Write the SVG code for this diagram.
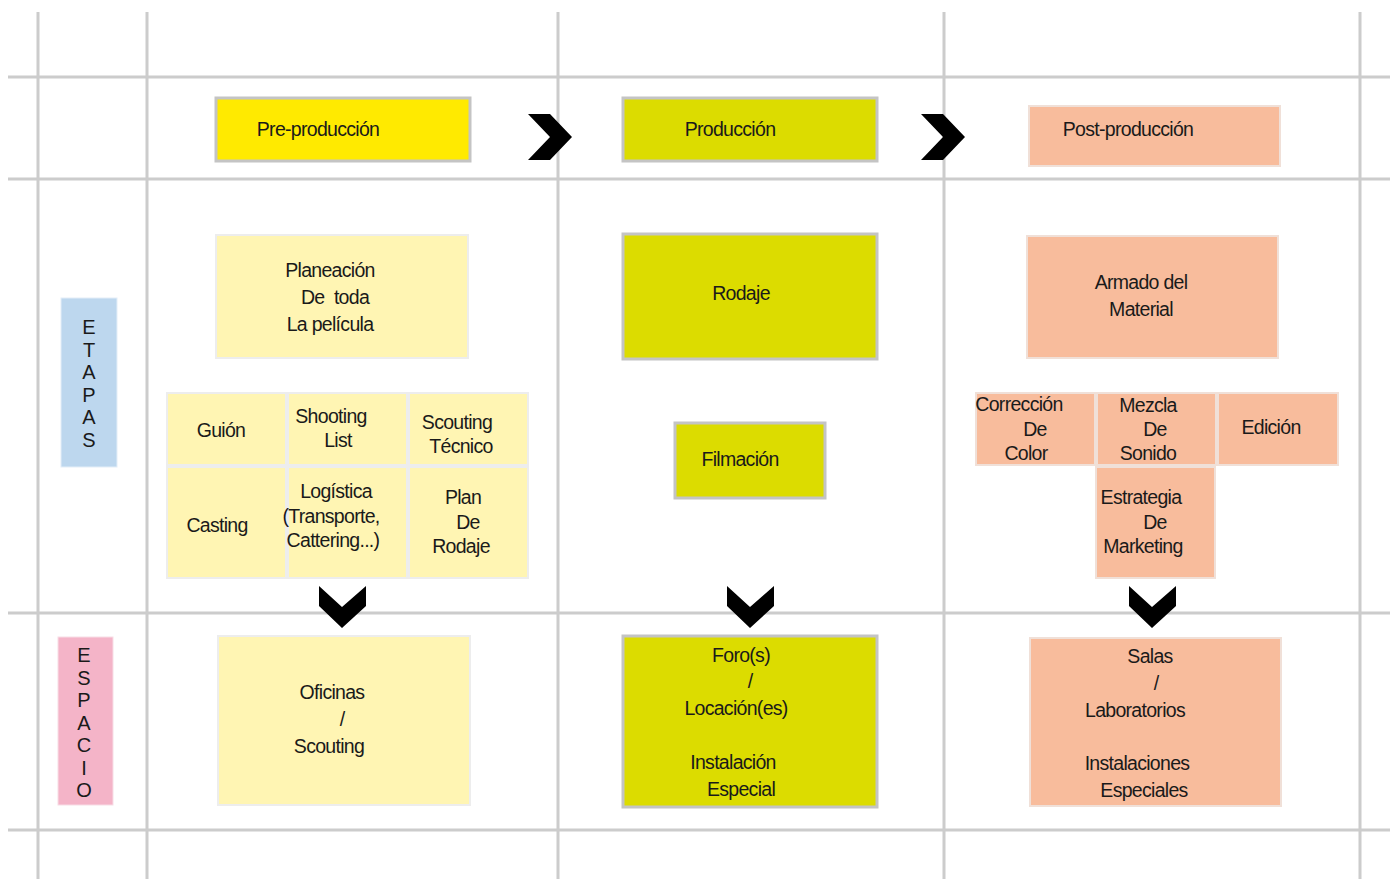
<svg xmlns="http://www.w3.org/2000/svg" width="1395" height="879" viewBox="0 0 1395 879">
<style>
.grid{stroke:#cccccc;stroke-width:3;fill:none}
.t{font-family:"Liberation Sans",Arial,sans-serif;font-size:19.5px;letter-spacing:-0.7px;fill:#1a1a1a;text-anchor:middle}
.v{font-family:"Liberation Sans",Arial,sans-serif;font-size:20px;fill:#1a1a1a;text-anchor:middle}
.yel{fill:#FFEA00;stroke:#c4c4c4;stroke-width:3}
.oli{fill:#DCDC00;stroke:#c4c4c4;stroke-width:3}
.pale{fill:#FFF5B3;stroke:#ededed;stroke-width:2}
.sal{fill:#F8BC9C;stroke:#f0e0d8;stroke-width:2}
.chev{fill:#000}
</style>
<rect width="1395" height="879" fill="#ffffff"/>
<g id="grid">
<line class="grid" x1="38" y1="12" x2="38" y2="879"/>
<line class="grid" x1="147" y1="12" x2="147" y2="879"/>
<line class="grid" x1="558" y1="12" x2="558" y2="879"/>
<line class="grid" x1="944" y1="12" x2="944" y2="879"/>
<line class="grid" x1="1360" y1="12" x2="1360" y2="879"/>
<line class="grid" x1="8" y1="77" x2="1390" y2="77"/>
<line class="grid" x1="8" y1="179" x2="1390" y2="179"/>
<line class="grid" x1="8" y1="613" x2="1390" y2="613"/>
<line class="grid" x1="8" y1="830" x2="1390" y2="830"/>
</g>
<g id="connectors">
<polygon class="chev" points="528,114 550,114 572,137 550,160 528,160 550,137"/>
<polygon class="chev" points="921,114 943,114 965,137 943,160 921,160 943,137"/>
<polygon class="chev" points="319,586 342,607 366,586 366,606 342,628 319,606"/>
<polygon class="chev" points="727,586 750,607 774,586 774,606 750,628 727,606"/>
<polygon class="chev" points="1129,586 1152,607 1176,586 1176,606 1152,628 1129,606"/>
</g>
<g id="etapas">
<rect x="61" y="298" width="56" height="169" fill="#BDD7EE" stroke="#e3eef8" stroke-width="1"/>
<text class="v"><tspan x="89" y="334">E</tspan><tspan x="89" y="356.5">T</tspan><tspan x="89" y="379">A</tspan><tspan x="89" y="401.5">P</tspan><tspan x="89" y="424">A</tspan><tspan x="89" y="446.5">S</tspan></text>
</g>
<g id="espacio">
<rect x="58" y="637" width="55" height="168" fill="#F4B4C8" stroke="#f8dde6" stroke-width="1"/>
<text class="v"><tspan x="84" y="662">E</tspan><tspan x="84" y="684.5">S</tspan><tspan x="84" y="707">P</tspan><tspan x="84" y="729.5">A</tspan><tspan x="84" y="752">C</tspan><tspan x="84" y="774.5">I</tspan><tspan x="84" y="797">O</tspan></text>
</g>
<g id="preproduccion">
<rect class="yel" x="216" y="98" width="254" height="63"/>
<text class="t" x="318" y="136">Pre-producción</text>
</g>
<g id="produccion">
<rect class="oli" x="623" y="98" width="254" height="63"/>
<text class="t" x="730" y="136">Producción</text>
</g>
<g id="postproduccion">
<rect class="sal" x="1029" y="106" width="251" height="60"/>
<text class="t" x="1128" y="136">Post-producción</text>
</g>
<g id="planeacion">
<rect class="pale" x="216" y="235" width="252" height="123"/>
<text class="t"><tspan x="330" y="277">Planeación</tspan><tspan x="335" y="304">De&#160;&#160;toda</tspan><tspan x="330" y="331">La película</tspan></text>
</g>
<g id="rodaje">
<rect class="oli" x="623" y="234" width="254" height="125"/>
<text class="t" x="741" y="300">Rodaje</text>
</g>
<g id="armado">
<rect class="sal" x="1027" y="236" width="251" height="122"/>
<text class="t"><tspan x="1141" y="289">Armado del</tspan><tspan x="1141" y="316">Material</tspan></text>
</g>
<g id="guion">
<rect class="pale" x="167" y="393" width="119" height="72"/>
<text class="t" x="221" y="437">Guión</text>
</g>
<g id="shooting">
<rect class="pale" x="288" y="393" width="119" height="72"/>
<text class="t"><tspan x="331" y="423">Shooting</tspan><tspan x="338" y="447">List</tspan></text>
</g>
<g id="scouting-tecnico">
<rect class="pale" x="409" y="393" width="119" height="72"/>
<text class="t"><tspan x="457" y="429">Scouting</tspan><tspan x="461" y="453">Técnico</tspan></text>
</g>
<g id="casting">
<rect class="pale" x="167" y="467" width="119" height="111"/>
<text class="t" x="217" y="532">Casting</text>
</g>
<g id="logistica">
<rect class="pale" x="288" y="467" width="119" height="111"/>
<text class="t"><tspan x="336" y="498">Logística</tspan><tspan x="331" y="523">(Transporte,</tspan><tspan x="333" y="547">Cattering...)</tspan></text>
</g>
<g id="plan-rodaje">
<rect class="pale" x="409" y="467" width="119" height="111"/>
<text class="t"><tspan x="463" y="504">Plan</tspan><tspan x="468" y="529">De</tspan><tspan x="461" y="553">Rodaje</tspan></text>
</g>
<g id="filmacion">
<rect class="oli" x="675" y="423" width="150" height="75"/>
<text class="t" x="740" y="466">Filmación</text>
</g>
<g id="correccion">
<rect class="sal" x="976" y="393" width="119" height="72"/>
<text class="t"><tspan x="1019" y="411">Corrección</tspan><tspan x="1035" y="436">De</tspan><tspan x="1026" y="460">Color</tspan></text>
</g>
<g id="mezcla">
<rect class="sal" x="1097" y="393" width="119" height="72"/>
<text class="t"><tspan x="1148" y="412">Mezcla</tspan><tspan x="1155" y="436">De</tspan><tspan x="1148" y="460">Sonido</tspan></text>
</g>
<g id="edicion">
<rect class="sal" x="1218" y="393" width="120" height="72"/>
<text class="t" x="1271" y="434">Edición</text>
</g>
<g id="estrategia">
<rect class="sal" x="1096" y="467" width="119" height="111"/>
<text class="t"><tspan x="1141" y="504">Estrategia</tspan><tspan x="1155" y="529">De</tspan><tspan x="1143" y="553">Marketing</tspan></text>
</g>
<g id="oficinas">
<rect class="pale" x="218" y="636" width="252" height="169"/>
<text class="t"><tspan x="332" y="699">Oficinas</tspan><tspan x="342" y="726">/</tspan><tspan x="329" y="753">Scouting</tspan></text>
</g>
<g id="foros">
<rect class="oli" x="623" y="636" width="254" height="171"/>
<text class="t"><tspan x="741" y="662">Foro(s)</tspan><tspan x="750" y="688">/</tspan><tspan x="736" y="715">Locación(es)</tspan><tspan x="733" y="769">Instalación</tspan><tspan x="741" y="796">Especial</tspan></text>
</g>
<g id="salas">
<rect class="sal" x="1030" y="638" width="251" height="168"/>
<text class="t"><tspan x="1150" y="663">Salas</tspan><tspan x="1156" y="690">/</tspan><tspan x="1135" y="717">Laboratorios</tspan><tspan x="1137" y="770">Instalaciones</tspan><tspan x="1144" y="797">Especiales</tspan></text>
</g>
</svg>
